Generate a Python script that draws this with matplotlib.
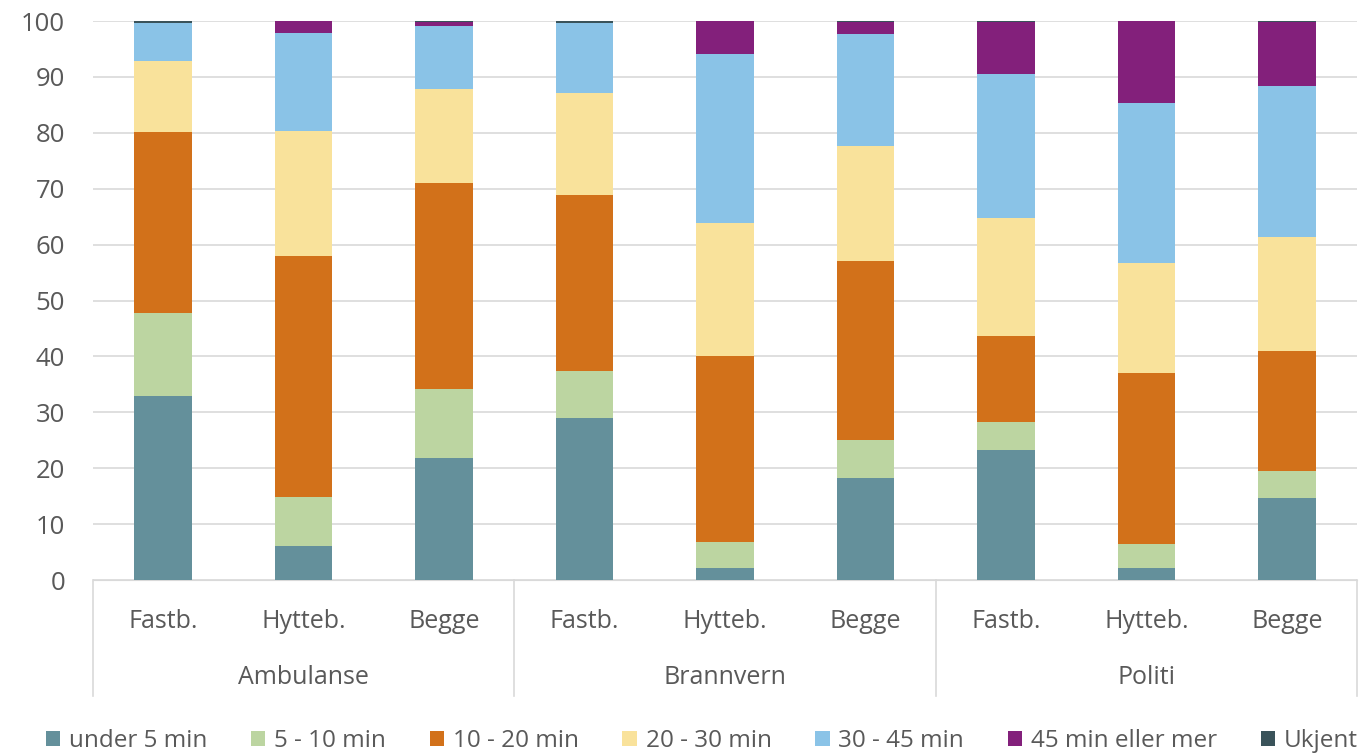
import matplotlib.pyplot as plt
import matplotlib.transforms as mtransforms
import numpy as np

plt.rcParams['font.family'] = ['Open Sans', 'DejaVu Sans']

groups = ['Ambulanse', 'Brannvern', 'Politi']
subs = ['Fastb.', 'Hytteb.', 'Begge']
series = ['under 5 min', '5 - 10 min', '10 - 20 min', '20 - 30 min',
          '30 - 45 min', '45 min eller mer', 'Ukjent']
colors = ['#64909B', '#BCD5A1', '#D2711A', '#F9E29B', '#8AC3E7', '#83207B', '#3A535A']

# verdier per bar (Amb F/H/B, Brann F/H/B, Politi F/H/B)
under5 = [33.0, 6.1, 21.9, 29.0, 2.1, 18.3, 23.3, 2.1, 14.7]
min5_10 = [14.7, 8.8, 12.3, 8.4, 4.7, 6.8, 5.0, 4.3, 4.8]
min10_20 = [32.5, 43.0, 36.9, 31.4, 33.3, 32.0, 15.4, 30.7, 21.5]
min20_30 = [12.6, 22.5, 16.7, 18.4, 23.8, 20.6, 21.0, 19.7, 20.4]
min30_45 = [6.9, 17.5, 11.3, 12.5, 30.3, 20.0, 25.9, 28.6, 26.9]
min45 = [0.0, 2.1, 0.7, 0.0, 5.8, 2.1, 9.2, 14.6, 11.5]
ukjent = [0.3, 0.0, 0.2, 0.3, 0.0, 0.2, 0.2, 0.0, 0.2]

data = [under5, min5_10, min10_20, min20_30, min30_45, min45, ukjent]

fig = plt.figure(figsize=(13.68, 7.53), dpi=100)
ax = fig.add_axes([0.068, 0.2297, 0.924, 0.7423])

x = np.arange(len(under5))
bottom = np.zeros(len(x))
for vals, name, c in zip(data, series, colors):
    ax.bar(x, vals, 0.41, bottom=bottom, color=c, label=name, zorder=3)
    bottom += np.array(vals)

ax.set_xlim(-0.5, 8.5)
ax.set_ylim(0, 100)
ax.set_yticks(range(0, 101, 10))
ax.grid(axis='y', color='#D9D9D9', linewidth=1.2, zorder=0)
for s in ['top', 'right', 'left']:
    ax.spines[s].set_visible(False)
ax.spines['bottom'].set_color('#D9D9D9')
ax.tick_params(axis='y', length=0, labelsize=18.5, labelcolor='#595959', pad=20)
ax.tick_params(axis='x', length=0, labelsize=18, labelcolor='#595959', pad=21)
ax.set_xticks(x)
ax.set_xticklabels(subs * 3)

trans = mtransforms.blended_transform_factory(ax.transData, ax.transAxes)
for xs in [-0.5, 2.5, 5.5, 8.5]:
    ax.plot([xs, xs], [0, -0.207], color='#D9D9D9', lw=1.2, transform=trans, clip_on=False)
for i, g in enumerate(groups):
    ax.text(i * 3 + 1, -0.175, g, transform=trans, ha='center', va='center',
            fontsize=18, color='#595959')

fig.legend(loc='lower center', ncol=7, frameon=False, fontsize=17.5,
           handlelength=0.6, handleheight=0.6, handletextpad=0.35, columnspacing=1.8,
           labelcolor='#595959', bbox_to_anchor=(0.513, -0.029))

fig.savefig('out.png', dpi=100)
